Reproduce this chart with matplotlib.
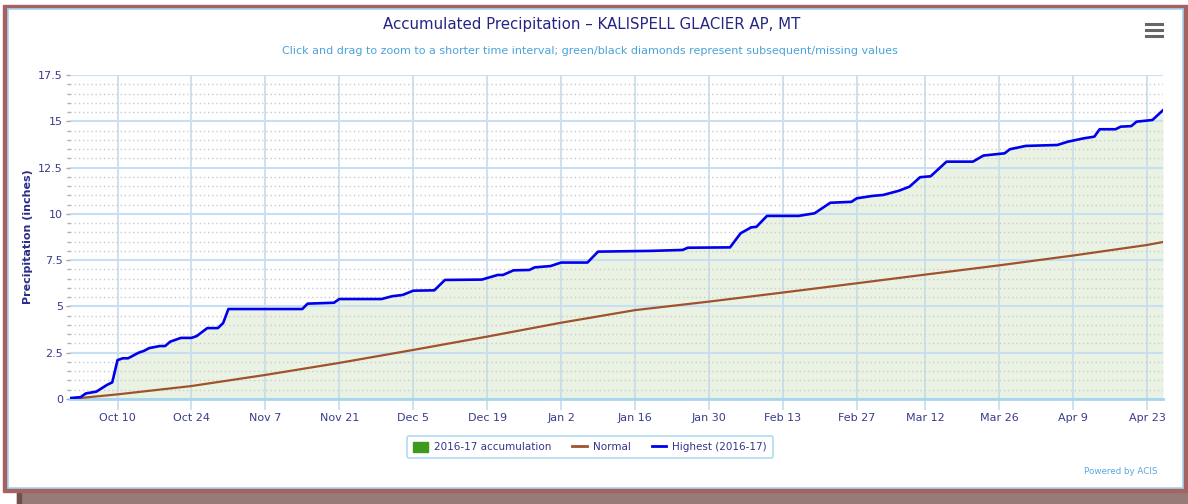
import matplotlib.pyplot as plt
from matplotlib.patches import Rectangle, Patch
from matplotlib.lines import Line2D
from datetime import datetime

# Highest (2016-17) accumulation
high_dates = ["2016-10-01", "2016-10-03", "2016-10-04", "2016-10-06", "2016-10-08", "2016-10-09",
              "2016-10-10", "2016-10-11", "2016-10-12", "2016-10-14", "2016-10-15", "2016-10-16",
              "2016-10-18", "2016-10-19", "2016-10-20", "2016-10-22", "2016-10-24", "2016-10-25",
              "2016-10-27", "2016-10-29", "2016-10-30", "2016-10-31", "2016-11-14", "2016-11-15",
              "2016-11-20", "2016-11-21", "2016-11-29", "2016-12-01", "2016-12-03", "2016-12-05",
              "2016-12-09", "2016-12-11", "2016-12-18", "2016-12-21", "2016-12-22", "2016-12-24",
              "2016-12-27", "2016-12-28", "2016-12-31", "2017-01-02", "2017-01-07", "2017-01-09",
              "2017-01-19", "2017-01-25", "2017-01-26", "2017-02-03", "2017-02-05", "2017-02-07",
              "2017-02-08", "2017-02-10", "2017-02-16", "2017-02-19", "2017-02-22", "2017-02-26",
              "2017-02-27", "2017-03-02", "2017-03-04", "2017-03-07", "2017-03-09", "2017-03-11",
              "2017-03-13", "2017-03-16", "2017-03-21", "2017-03-23", "2017-03-27", "2017-03-28",
              "2017-03-31", "2017-04-06", "2017-04-08", "2017-04-11", "2017-04-13", "2017-04-14",
              "2017-04-17", "2017-04-18", "2017-04-20", "2017-04-21", "2017-04-24", "2017-04-26"]
high_vals = [0.05, 0.1, 0.3, 0.4, 0.76, 0.9,
             2.1, 2.2, 2.2, 2.5, 2.6, 2.75,
             2.86, 2.86, 3.1, 3.3, 3.3, 3.4,
             3.83, 3.83, 4.1, 4.86, 4.86, 5.15,
             5.2, 5.4, 5.4, 5.55, 5.62, 5.85,
             5.87, 6.43, 6.45, 6.7, 6.7, 6.95,
             6.97, 7.11, 7.18, 7.37, 7.37, 7.96,
             8.0, 8.05, 8.17, 8.19, 8.95, 9.27,
             9.3, 9.89, 9.89, 10.03, 10.6, 10.65,
             10.84, 10.97, 11.02, 11.25, 11.47, 11.98,
             12.03, 12.82, 12.82, 13.15, 13.27, 13.49,
             13.67, 13.72, 13.9, 14.08, 14.17, 14.57,
             14.57, 14.71, 14.74, 14.98, 15.07, 15.6]

# Normal accumulation
norm_dates = ["2016-10-01", "2016-10-10", "2016-10-24", "2016-11-07", "2016-11-21", "2016-12-05",
              "2016-12-19", "2017-01-02", "2017-01-16", "2017-01-30", "2017-02-13", "2017-02-27",
              "2017-03-12", "2017-03-26", "2017-04-09", "2017-04-23", "2017-04-26"]
norm_vals = [0.0, 0.25, 0.7, 1.3, 1.95, 2.65,
             3.37, 4.12, 4.8, 5.26, 5.75, 6.25,
             6.72, 7.22, 7.75, 8.32, 8.48]

tick_dates = ["2016-10-10", "2016-10-24", "2016-11-07", "2016-11-21", "2016-12-05", "2016-12-19",
              "2017-01-02", "2017-01-16", "2017-01-30", "2017-02-13", "2017-02-27", "2017-03-12",
              "2017-03-26", "2017-04-09", "2017-04-23"]
tick_labels = ["Oct 10", "Oct 24", "Nov 7", "Nov 21", "Dec 5", "Dec 19", "Jan 2", "Jan 16",
               "Jan 30", "Feb 13", "Feb 27", "Mar 12", "Mar 26", "Apr 9", "Apr 23"]

def to_dt(s):
    return datetime.strptime(s, "%Y-%m-%d")

hx = [to_dt(d) for d in high_dates]
nx = [to_dt(d) for d in norm_dates]
tx = [to_dt(d) for d in tick_dates]

W, H = 1188, 504
fig = plt.figure(figsize=(W / 100, H / 100), dpi=100)
fig.patch.set_facecolor("white")

def px(x0, y0, x1, y1):
    # pixel box (top-left origin) -> figure fraction
    return (x0 / W, 1 - y1 / H, (x1 - x0) / W, (y1 - y0) / H)

# frame around the screenshot
x, y, w, h = px(17, 491, W, H)
fig.patches.append(Rectangle((x, y), w, h, transform=fig.transFigure, color="#977b79", zorder=-10))
x, y, w, h = px(17, 491, 21, H)
fig.patches.append(Rectangle((x, y), w, h, transform=fig.transFigure, color="#6e4e4e", zorder=-10))
x, y, w, h = px(3, 5, W, 492)
fig.patches.append(Rectangle((x, y), w, h, transform=fig.transFigure, color="#a46262", zorder=-10))
x, y, w, h = px(8, 9, 1183, 488)
fig.patches.append(Rectangle((x, y), w, h, transform=fig.transFigure, facecolor="white",
                             edgecolor="#a9d3ee", lw=1.2, zorder=-9))

ax = fig.add_axes([70 / W, 1 - 399 / H, (1163 - 70) / W, (399 - 75) / H])
ax.set_zorder(2)
ax.set_facecolor("none")

ax.fill_between(hx, high_vals, 0, color="#eaf3e3", zorder=1, lw=0)
ax.plot(nx, norm_vals, color="#a0522d", lw=1.6, zorder=3)
ax.plot(hx, high_vals, color="#0000ee", lw=1.9, zorder=4, solid_joinstyle="round")

ax.set_xlim(to_dt("2016-10-01"), to_dt("2017-04-26"))
ax.set_ylim(0, 17.5)

ax.set_xticks(tx)
ax.set_xticklabels(tick_labels)
ax.set_yticks([0, 2.5, 5, 7.5, 10, 12.5, 15, 17.5])
ax.set_yticklabels(["0", "2.5", "5", "7.5", "10", "12.5", "15", "17.5"])
ax.set_yticks([v / 2 for v in range(36) if v % 5 != 0], minor=True)

ax.grid(axis="x", color="#c6dcea", lw=1.2, zorder=2)
ax.grid(axis="y", which="major", color="#c8def2", lw=1.5, zorder=2)
ax.grid(axis="y", which="minor", color="#cbcbcb", lw=1, ls=(0, (1, 2)), zorder=2)

for s in ["top", "right", "left"]:
    ax.spines[s].set_visible(False)
ax.spines["bottom"].set_color("#a6d6ee")
ax.spines["bottom"].set_linewidth(2)

ax.tick_params(axis="x", colors="#c6dcea", length=8, width=1.2, labelcolor="#3b3b8c",
               labelsize=8, pad=2)
ax.tick_params(axis="y", which="major", colors="#aaaaaa", length=3, width=1,
               labelcolor="#3b3b8c", labelsize=8, pad=2)
ax.tick_params(axis="y", which="minor", colors="#aaaaaa", length=2, width=1)

ax.set_ylabel("Precipitation (inches)", color="#2c2c8a", fontsize=8, fontweight="bold",
              labelpad=4)

fig.text(592 / W, 1 - 25 / H, "Accumulated Precipitation \u2013 KALISPELL GLACIER AP, MT",
         ha="center", va="center", fontsize=10.8, color="#252585")
fig.text(590 / W, 1 - 51 / H,
         "Click and drag to zoom to a shorter time interval; green/black diamonds represent subsequent/missing values",
         ha="center", va="center", fontsize=8, color="#4aa3dc")
fig.text(1157 / W, 1 - 471 / H, "Powered by ACIS", ha="right", va="center", fontsize=6.3,
         color="#5aa8e0")

# menu icon
for yy in (24, 30, 36):
    fig.add_artist(Line2D([1146 / W, 1162 / W], [1 - yy / H, 1 - yy / H], color="#666666",
                          lw=2.2, transform=fig.transFigure))

handles = [Patch(facecolor="#3d9a1c", edgecolor="#3d9a1c"),
           Line2D([], [], color="#a0522d", lw=2),
           Line2D([], [], color="#0000ee", lw=2)]
leg = fig.legend(handles, ["2016-17 accumulation", "Normal", "Highest (2016-17)"],
                 loc="center", bbox_to_anchor=(590 / W, 1 - 447 / H), ncol=3, fontsize=7.5,
                 frameon=True, fancybox=True, edgecolor="#9fd2ef", handlelength=1.4,
                 handleheight=1.2, columnspacing=2.0, handletextpad=0.6, borderpad=0.55)
leg.get_frame().set_linewidth(1.2)
for t in leg.get_texts():
    t.set_color("#34348a")

fig.savefig("out.png", dpi=100)
